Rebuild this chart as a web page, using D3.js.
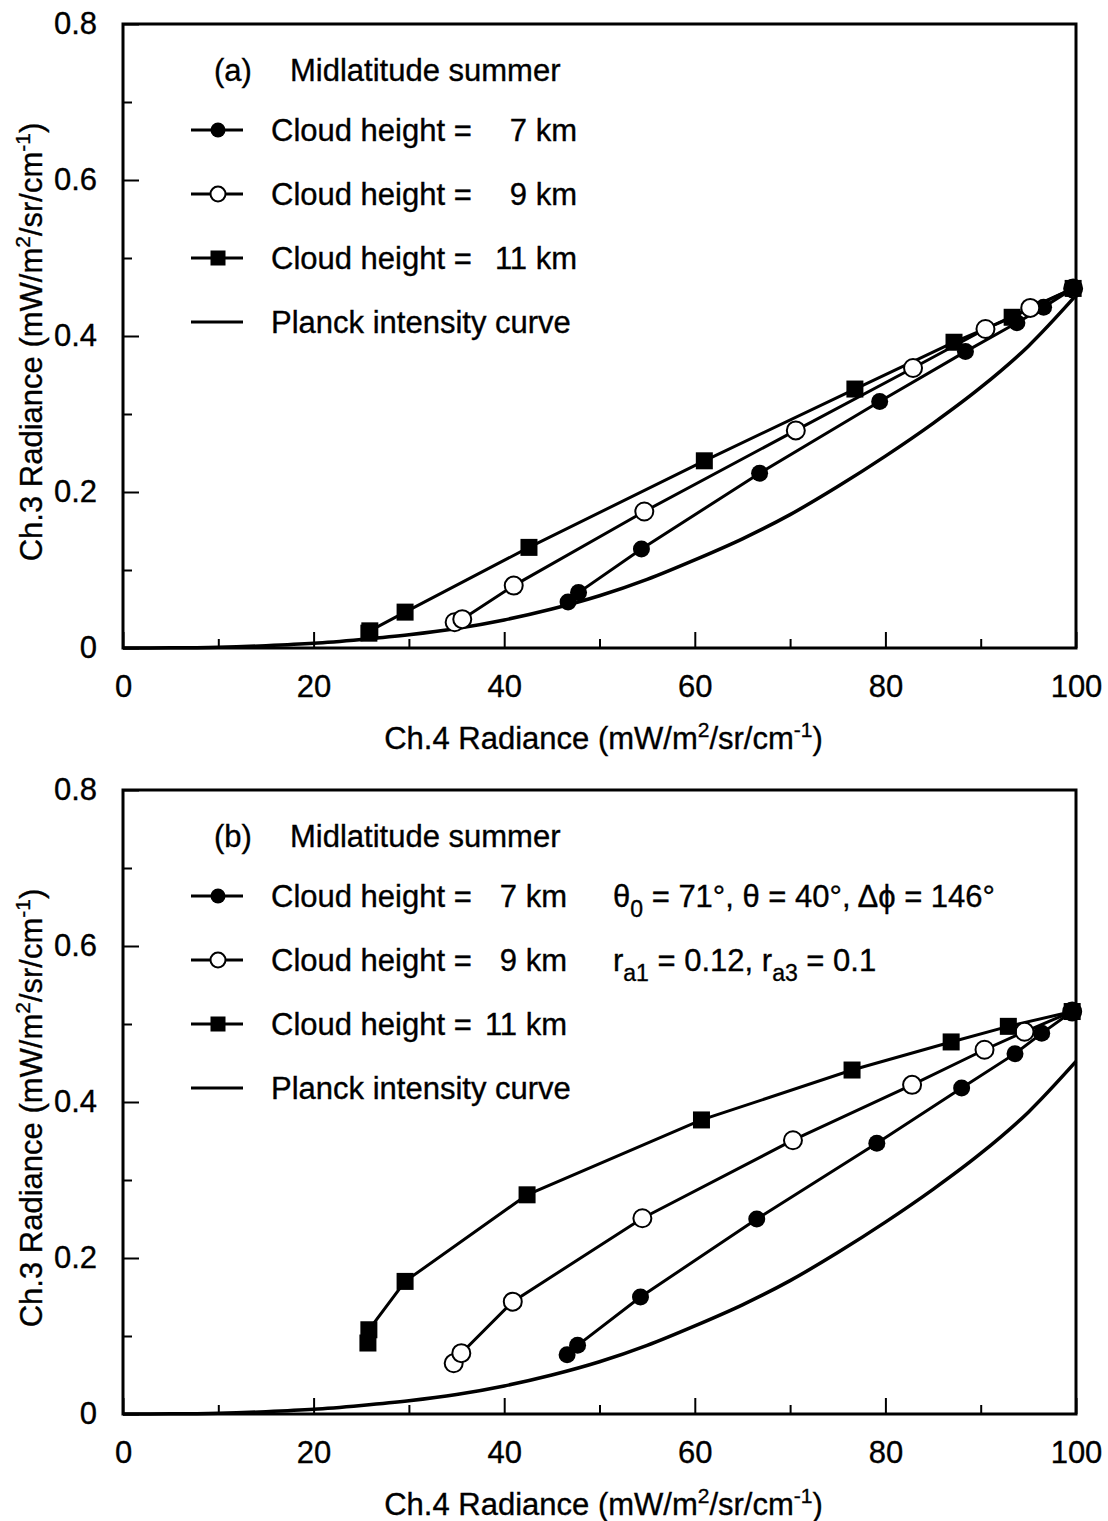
<!DOCTYPE html>
<html>
<head>
<meta charset="utf-8">
<script src="https://cdn.jsdelivr.net/npm/d3@7"></script>
<style>
  html, body { margin: 0; padding: 0; background: #fff; }
  svg { display: block; }
  text { font-family: "Liberation Sans", Arial, Helvetica, sans-serif; fill: #000; stroke: #000; stroke-width: 0.35px; }
</style>
</head>
<body>
<svg id="chart" width="1108" height="1521"></svg>
<script>
// ---------- data ----------
const xMajorTicks = [0, 20, 40, 60, 80, 100];
const xMinorTicks = [10, 30, 50, 70, 90];
const yMajorTicks = [0, 0.2, 0.4, 0.6, 0.8];
const yMinorTicks = [0.1, 0.3, 0.5, 0.7];
const yTickLabels = ["0", "0.2", "0.4", "0.6", "0.8"];

const planckX = [0, 5, 10, 15, 20, 25, 30, 35, 40, 45, 50, 55, 60, 65, 70, 75, 80, 85, 90, 95, 100];
const planckY = [0, 0.0002, 0.001, 0.003, 0.006, 0.011, 0.017, 0.025, 0.036, 0.050, 0.067, 0.088, 0.113, 0.140, 0.171, 0.207, 0.246, 0.288, 0.334, 0.387, 0.452];

// panel (a)
const a7x  = [46.7, 47.8, 54.4, 66.8, 79.4, 88.4, 93.8, 96.6, 99.7];
const a7y  = [0.059, 0.071, 0.127, 0.224, 0.316, 0.380, 0.417, 0.437, 0.461];
const a9x  = [34.8, 35.6, 41.0, 54.7, 70.6, 82.9, 90.5, 95.2, 99.7];
const a9y  = [0.033, 0.037, 0.080, 0.175, 0.279, 0.359, 0.409, 0.436, 0.461];
const a11x = [25.8, 25.9, 29.6, 42.6, 61.0, 76.8, 87.2, 93.3, 99.7];
const a11y = [0.019, 0.022, 0.046, 0.129, 0.240, 0.332, 0.392, 0.424, 0.461];

// panel (b)
const b7x  = [46.6, 47.7, 54.3, 66.5, 79.1, 88.0, 93.6, 96.4, 99.6];
const b7y  = [0.076, 0.088, 0.150, 0.250, 0.347, 0.418, 0.462, 0.488, 0.516];
const b9x  = [34.7, 35.5, 40.9, 54.5, 70.3, 82.8, 90.4, 94.6, 99.6];
const b9y  = [0.065, 0.078, 0.144, 0.251, 0.351, 0.422, 0.467, 0.490, 0.516];
const b11x = [25.7, 25.8, 29.6, 42.4, 60.7, 76.5, 86.9, 92.9, 99.6];
const b11y = [0.091, 0.108, 0.170, 0.281, 0.377, 0.441, 0.477, 0.497, 0.516];

const legendLabels = ["Cloud height =", "Cloud height =", "Cloud height =", "Planck intensity curve"];
const legendValues = ["7 km", "9 km", "11 km"];
const panelTags = ["(a)", "(b)"];
const panelTitle = "Midlatitude summer";

// ---------- layout ----------
const svg = d3.select("#chart");
const FS = 31;
const left = 123, right = 1076;
const panels = [
  { top: 24, bottom: 648, tag: panelTags[0], s7: [a7x, a7y], s9: [a9x, a9y], s11: [a11x, a11y], valEnd: 577, extra: false },
  { top: 790, bottom: 1414, tag: panelTags[1], s7: [b7x, b7y], s9: [b9x, b9y], s11: [b11x, b11y], valEnd: 567, extra: true }
];

function zip(xs, ys) { return xs.map((v, i) => [v, ys[i]]); }

function richText(sel, parts, small) {
  // parts: [text, kind] kind: 'n' normal, 'sup', 'sub'
  let off = 0;
  parts.forEach(([t, k]) => {
    const target = k === 'sup' ? -12 : (k === 'sub' ? 10 : 0);
    const ts = sel.append("tspan").attr("dy", target - off).text(t);
    if (k !== 'n') ts.attr("font-size", small);
    off = target;
  });
}

const unitParts = [["(mW/m", 'n'], ["2", 'sup'], ["/sr/cm", 'n'], ["-1", 'sup'], [")", 'n']];

panels.forEach(p => {
  const x = d3.scaleLinear().domain([0, 100]).range([left, right]);
  const y = d3.scaleLinear().domain([0, 0.8]).range([p.bottom, p.top]);
  const g = svg.append("g");

  // minor ticks
  g.append("g").attr("transform", `translate(0,${p.bottom})`)
    .call(d3.axisBottom(x).tickValues(xMinorTicks).tickSize(-9).tickFormat(""))
    .call(s => { s.select(".domain").remove(); s.selectAll("line").attr("stroke-width", 2); });
  g.append("g").attr("transform", `translate(${left},0)`)
    .call(d3.axisLeft(y).tickValues(yMinorTicks).tickSize(-9).tickFormat(""))
    .call(s => { s.select(".domain").remove(); s.selectAll("line").attr("stroke-width", 2); });

  // major ticks with labels
  const xa = g.append("g").attr("transform", `translate(0,${p.bottom})`)
    .call(d3.axisBottom(x).tickValues(xMajorTicks).tickSize(-16).tickPadding(27).tickFormat(d3.format("d")));
  xa.select(".domain").remove();
  xa.selectAll("line").attr("stroke-width", 2);
  xa.selectAll("text").attr("font-size", FS).attr("font-family", null);

  const ya = g.append("g").attr("transform", `translate(${left},0)`)
    .call(d3.axisLeft(y).tickValues(yMajorTicks).tickSize(-16).tickPadding(26).tickFormat((d, i) => yTickLabels[i]));
  ya.select(".domain").remove();
  ya.selectAll("line").attr("stroke-width", 2);
  ya.selectAll("text").attr("font-size", FS).attr("font-family", null);

  // frame
  g.append("rect").attr("x", left).attr("y", p.top).attr("width", right - left).attr("height", p.bottom - p.top)
    .attr("fill", "none").attr("stroke", "#000").attr("stroke-width", 3);

  // axis titles
  const xt = g.append("text").attr("x", (left + right) / 2 + 4).attr("y", p.bottom + 101)
    .attr("text-anchor", "middle").attr("font-size", FS);
  richText(xt, [["Ch.4 Radiance ", 'n']].concat(unitParts), 21);

  const yt = g.append("text").attr("transform", `translate(42,${(p.top + p.bottom) / 2 + 6}) rotate(-90)`)
    .attr("text-anchor", "middle").attr("font-size", FS);
  richText(yt, [["Ch.3 Radiance ", 'n']].concat(unitParts), 21);

  // planck curve
  const curveLine = d3.line().x(d => x(d[0])).y(d => y(d[1])).curve(d3.curveMonotoneX);
  g.append("path").datum(zip(planckX, planckY))
    .attr("d", curveLine).attr("fill", "none").attr("stroke", "#000").attr("stroke-width", 3.5);

  const lin = d3.line().x(d => x(d[0])).y(d => y(d[1]));
  [p.s7, p.s9, p.s11].forEach(s => {
    g.append("path").datum(zip(s[0], s[1])).attr("d", lin).attr("fill", "none")
      .attr("stroke", "#000").attr("stroke-width", 3);
  });

  // markers
  g.selectAll(".m7").data(zip(p.s7[0], p.s7[1])).join("circle")
    .attr("cx", d => x(d[0])).attr("cy", d => y(d[1])).attr("r", 8.5).attr("fill", "#000");
  g.selectAll(".m9").data(zip(p.s9[0], p.s9[1])).join("circle")
    .attr("cx", d => x(d[0])).attr("cy", d => y(d[1])).attr("r", 9).attr("fill", "#fff")
    .attr("stroke", "#000").attr("stroke-width", 2);
  const sq = 17;
  g.selectAll(".m11").data(zip(p.s11[0], p.s11[1])).join("rect")
    .attr("x", d => x(d[0]) - sq / 2).attr("y", d => y(d[1]) - sq / 2)
    .attr("width", sq).attr("height", sq).attr("fill", "#000");

  // legend
  const lg = g.append("g");
  const tagY = p.top + 46;
  lg.append("text").attr("x", 214).attr("y", tagY + 11).attr("font-size", FS).text(p.tag);
  lg.append("text").attr("x", 290).attr("y", tagY + 11).attr("font-size", FS).text(panelTitle);
  const rowsY = [106, 170, 234, 298].map(v => p.top + v);
  const symX0 = 191, symX1 = 243, symC = 218;
  rowsY.forEach((ry, i) => {
    lg.append("line").attr("x1", symX0).attr("x2", symX1).attr("y1", ry).attr("y2", ry)
      .attr("stroke", "#000").attr("stroke-width", 3);
    if (i === 0) lg.append("circle").attr("cx", symC).attr("cy", ry).attr("r", 7.5).attr("fill", "#000");
    if (i === 1) lg.append("circle").attr("cx", symC).attr("cy", ry).attr("r", 7.5).attr("fill", "#fff").attr("stroke", "#000").attr("stroke-width", 2);
    if (i === 2) lg.append("rect").attr("x", symC - 7.5).attr("y", ry - 7.5).attr("width", 15).attr("height", 15).attr("fill", "#000");
    lg.append("text").attr("x", 271).attr("y", ry + 11).attr("font-size", FS).text(legendLabels[i]);
    if (i < 3) lg.append("text").attr("x", p.valEnd).attr("y", ry + 11).attr("text-anchor", "end")
      .attr("font-size", FS).text(legendValues[i]);
  });

  if (p.extra) {
    const t1 = lg.append("text").attr("x", 613).attr("y", rowsY[0] + 11).attr("font-size", FS);
    richText(t1, [["\u03B8", 'n'], ["0", 'sub'], [" = 71\u00B0, \u03B8 = 40\u00B0, \u0394\u03D5 = 146\u00B0", 'n']], 23);
    const t2 = lg.append("text").attr("x", 613).attr("y", rowsY[1] + 11).attr("font-size", FS);
    richText(t2, [["r", 'n'], ["a1", 'sub'], [" = 0.12, r", 'n'], ["a3", 'sub'], [" = 0.1", 'n']], 23);
  }
});
</script>
</body>
</html>
